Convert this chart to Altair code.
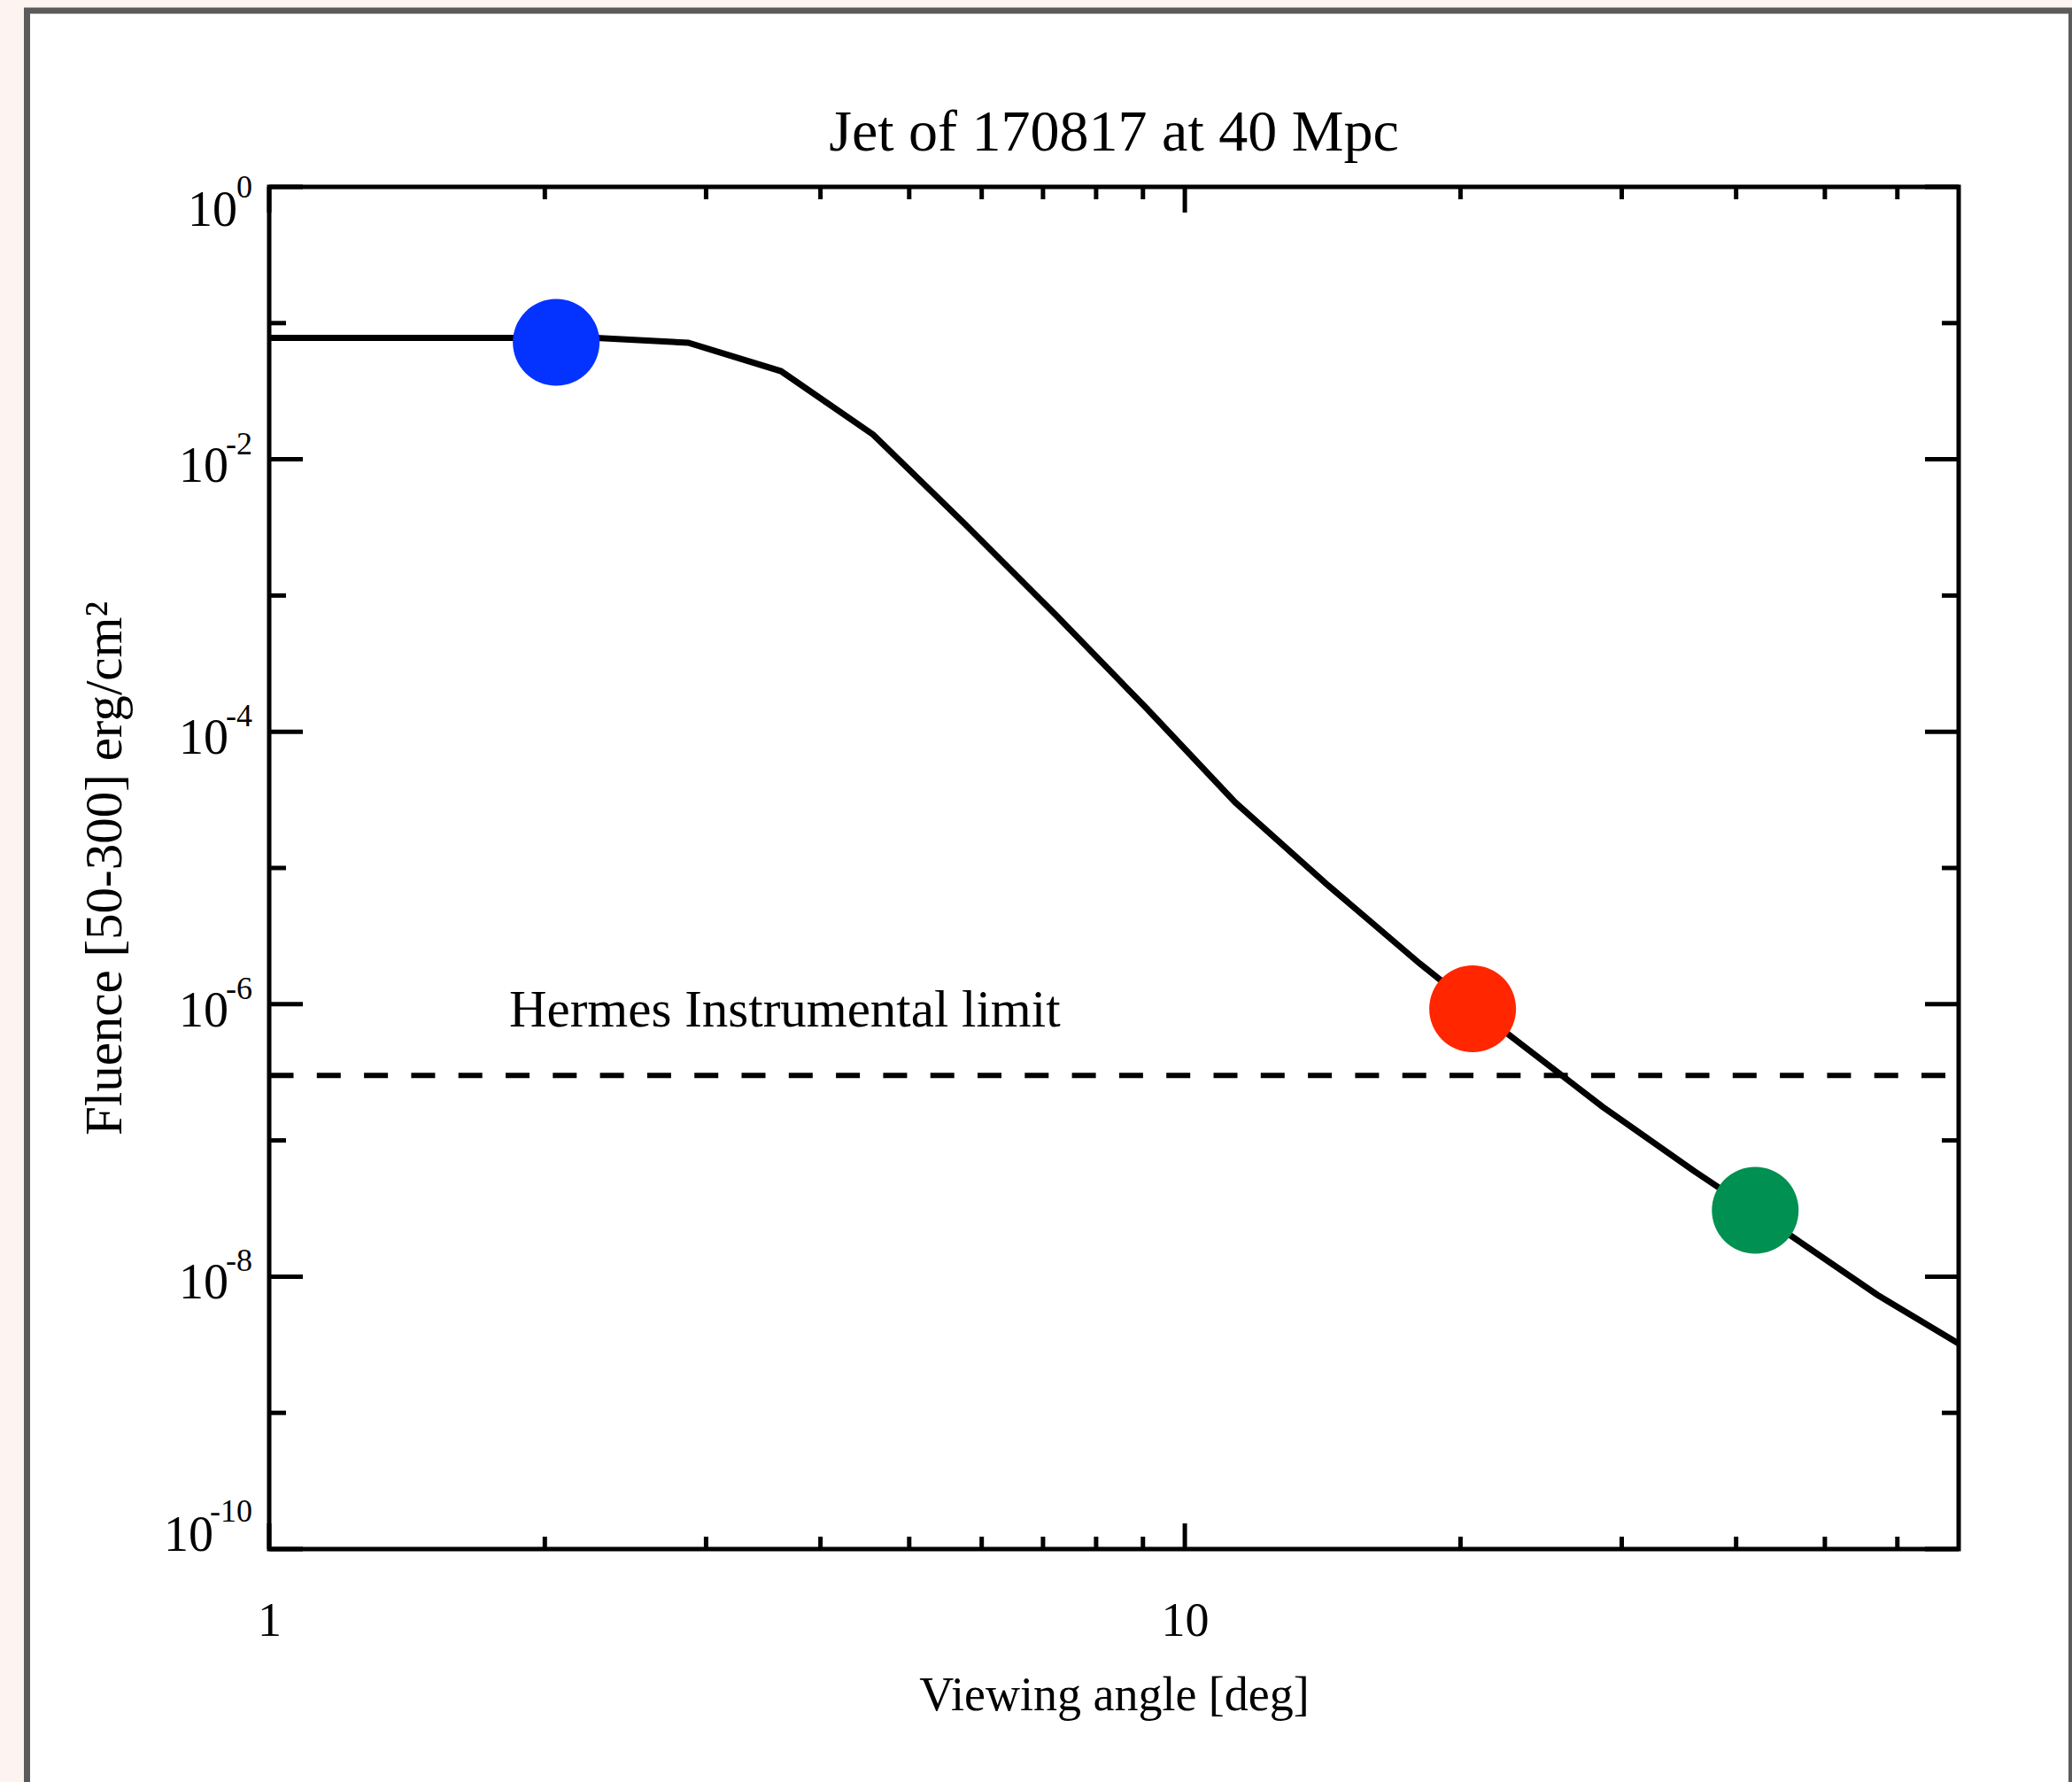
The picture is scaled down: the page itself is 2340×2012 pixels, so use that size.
import altair as alt
import pandas as pd

# ---------------- data ----------------
angles = [1.0, 2.275, 2.868, 3.622, 4.566, 5.743, 7.256, 9.087, 11.35, 14.35,
          18.05, 22.70, 28.61, 35.98, 45.26, 57.05, 70.0]
fluence = [0.0778, 0.0778, 0.0718, 0.0444, 0.0152, 3.38e-3, 7.03e-4, 1.48e-4,
           3.03e-5, 7.41e-6, 1.99e-6, 5.82e-7, 1.76e-7, 5.97e-8, 2.13e-8,
           7.35e-9, 3.22e-9]

marker_angles = [2.058, 20.62, 41.97]
marker_fluence = [0.0722, 9.25e-7, 3.07e-8]
marker_colors = ["#0433ff", "#ff2600", "#009051"]

limit_fluence = [3.0e-7]
limit_label = ["Hermes Instrumental limit"]
limit_label_angle = [1.828]
limit_label_fluence = [6.86e-7]

x_major = [1, 10]
x_minor = [2, 3, 4, 5, 6, 7, 8, 9, 20, 30, 40, 50, 60]
y_major_exp = [0, -2, -4, -6, -8, -10]
y_minor_exp = [-1, -3, -5, -7, -9]

chart_title = "Jet of 170817 at 40 Mpc"
x_title = "Viewing angle [deg]"
y_title = "Fluence [50-300] erg/cm\u00b2"

# ---------------- layout ----------------
W, H = 1908, 1538
FONT = "Liberation Serif"
LW = 5
PINK = "#fdf4f1"

xs = alt.Scale(type="log", domain=[1, 70], nice=False)
ys = alt.Scale(type="log", domain=[1e-10, 1], nice=False)

x_axis = alt.Axis(values=x_major, format="~g", labelFont=FONT, labelFontSize=54,
                  labelPadding=54, labelFlush=False, labelOverlap=False, ticks=False,
                  tickSize=0, domain=False, grid=False, labelColor="black",
                  titleFont=FONT, titleFontSize=54, titleFontWeight="normal",
                  titleColor="black", titleX=W / 2, titleY=181,
                  titleBaseline="alphabetic", titleAlign="center", zindex=2)
y_axis = alt.Axis(labels=False, ticks=False, domain=False, grid=False,
                  titleFont=FONT, titleFontSize=59, titleFontWeight="normal",
                  titleColor="black", titleX=-168, titleY=H / 2,
                  titleBaseline="alphabetic", titleAlign="center", titleAngle=270,
                  zindex=2)


def X(field):
    return alt.X(field, scale=xs, axis=x_axis, title=x_title)


def Y(field):
    return alt.Y(field, scale=ys, axis=y_axis, title=y_title)


one = alt.Data(values=[{"k": 0}])

# page margin strips (outside the gray frame) and the gray frame itself
strip_left = alt.Chart(one).mark_rect(fill=PINK).encode(
    x=alt.value(-304), x2=alt.value(-277), y=alt.value(-211), y2=alt.value(1801))
strip_top = alt.Chart(one).mark_rect(fill=PINK).encode(
    x=alt.value(-304), x2=alt.value(2036), y=alt.value(-211), y2=alt.value(-203))
frame = alt.Chart(one).mark_rect(fillOpacity=0, stroke="#5b5b5b", strokeWidth=7).encode(
    x=alt.value(-273.5), x2=alt.value(2035.5), y=alt.value(-199), y2=alt.value(1809)
)

border = alt.Chart(one).mark_rect(fillOpacity=0, stroke="black", strokeWidth=LW).encode(
    x=alt.value(0), x2=alt.value(W), y=alt.value(0), y2=alt.value(H)
)


def xticks(vals, length):
    base = alt.Chart(pd.DataFrame({"v": vals}))
    bottom = base.mark_rule(color="black", strokeWidth=LW).encode(
        x=X("v:Q"), y=alt.value(H), y2=alt.value(H - length))
    top = base.mark_rule(color="black", strokeWidth=LW).encode(
        x=X("v:Q"), y=alt.value(0), y2=alt.value(length))
    return [bottom, top]


def yticks(exps, length):
    base = alt.Chart(pd.DataFrame({"p": exps})).transform_calculate(v="pow(10, datum.p)")
    left = base.mark_rule(color="black", strokeWidth=LW).encode(
        y=Y("v:Q"), x=alt.value(0), x2=alt.value(length))
    right = base.mark_rule(color="black", strokeWidth=LW).encode(
        y=Y("v:Q"), x=alt.value(W), x2=alt.value(W - length))
    return [left, right]


tick_layers = xticks(x_major, 29) + xticks(x_minor, 14) + yticks(y_major_exp, 38) + yticks(y_minor_exp, 19)

curve_df = pd.DataFrame({"a": angles, "f": fluence})
curve = alt.Chart(curve_df).mark_line(color="black", strokeWidth=7).encode(
    x=X("a:Q"), y=Y("f:Q"),
)

limit = alt.Chart(pd.DataFrame({"f": limit_fluence})).mark_rule(
    color="black", strokeWidth=6, strokeDash=[27, 26.3], strokeDashOffset=38.3
).encode(y=Y("f:Q"))

limit_text = alt.Chart(pd.DataFrame({"a": limit_label_angle, "f": limit_label_fluence,
                                     "t": limit_label})).mark_text(
    align="left", baseline="alphabetic", font=FONT, fontSize=59, color="black"
).encode(x=X("a:Q"), y=Y("f:Q"), text="t:N")

markers = alt.Chart(pd.DataFrame({"a": marker_angles, "f": marker_fluence,
                                  "c": marker_colors})).mark_circle(size=9600, opacity=1).encode(
    x=X("a:Q"), y=Y("f:Q"),
    color=alt.Color("c:N", scale=None, legend=None),
)

ylab = alt.Chart(pd.DataFrame({"p": y_major_exp})).transform_calculate(
    v="pow(10, datum.p)", e="'' + datum.p")
ylab_base = ylab.mark_text(
    align="right", baseline="alphabetic", font=FONT, fontSize=56, color="black",
    dx=alt.expr("datum.p == 0 ? 10 : (datum.p == -10 ? -17 : 0)"),
    dy=alt.expr("datum.p == 0 ? 44 : (datum.p == -10 ? 2 : 25)"),
).encode(x=alt.value(-46), y=Y("v:Q"), text=alt.value("10"))
ylab_exp = ylab.mark_text(
    align="right", baseline="alphabetic", font=FONT, fontSize=36, color="black",
    dy=alt.expr("datum.p == 0 ? 12 : (datum.p == -10 ? -31 : -6)"),
).encode(x=alt.value(-19), y=Y("v:Q"), text="e:N")

chart = alt.layer(
    curve, strip_left, strip_top, frame, border, *tick_layers, limit, markers,
    limit_text, ylab_base, ylab_exp
).properties(
    width=W, height=H,
    title=alt.TitleParams(chart_title, font=FONT, fontSize=66, fontWeight="normal",
                          color="black", anchor="middle", frame="group",
                          baseline="alphabetic", offset=0, dy=235.5),
    autosize=alt.AutoSizeParams(type="none"),
    padding={"left": 304, "top": 211, "right": 128, "bottom": 263},
    background="white",
).configure_view(strokeWidth=0)

chart.save("out.html", embed_options={"renderer": "svg", "actions": False})
